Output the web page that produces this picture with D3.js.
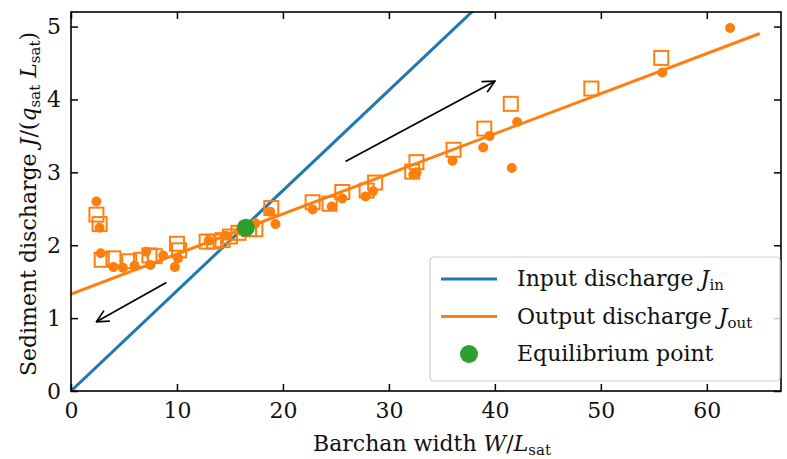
<!DOCTYPE html>
<html>
<head>
<meta charset="utf-8">
<script src="https://cdn.jsdelivr.net/npm/d3@7"></script>
<style>
  body { margin: 0; background: #fff; }
  svg text { font-family: "DejaVu Serif", "Liberation Serif", serif; fill: #111; }
</style>
</head>
<body>
<svg width="787" height="459"></svg>
<script>
// open squares (simulation output discharge)
const squareX = [2.4, 2.7, 2.9, 4.0, 5.5, 6.6, 7.4, 7.9, 10.0, 10.2, 12.8, 13.5, 14.3, 15.0, 15.8, 16.8, 17.4, 18.9, 22.8, 24.4, 25.6, 27.9, 28.7, 32.2, 32.6, 36.1, 39.0, 41.5, 49.1, 55.7];
const squareY = [2.42, 2.29, 1.80, 1.82, 1.78, 1.80, 1.86, 1.85, 2.02, 1.93, 2.05, 2.05, 2.07, 2.12, 2.17, 2.22, 2.22, 2.51, 2.59, 2.57, 2.73, 2.75, 2.86, 3.01, 3.14, 3.31, 3.60, 3.94, 4.15, 4.57];
// filled dots
const dotX = [2.4, 2.7, 2.8, 4.0, 4.9, 6.0, 7.1, 7.5, 8.7, 9.8, 10.1, 13.0, 14.6, 16.0, 17.4, 18.8, 19.3, 22.8, 24.6, 25.6, 27.8, 28.5, 32.3, 32.6, 36.0, 38.9, 39.5, 41.6, 42.1, 55.8, 62.2];
const dotY = [2.60, 2.24, 1.89, 1.70, 1.69, 1.72, 1.91, 1.73, 1.86, 1.70, 1.82, 2.06, 2.13, 2.20, 2.30, 2.46, 2.29, 2.49, 2.53, 2.64, 2.67, 2.74, 2.97, 3.00, 3.16, 3.34, 3.50, 3.06, 3.69, 4.37, 4.98];
// model lines
const inSlope = 0.1375;
const outIntercept = 1.33, outSlope = 0.055;
const lineXMax = 65;
const equilibrium = [16.5, 2.24];
const xTicks = [0, 10, 20, 30, 40, 50, 60];
const yTicks = [0, 1, 2, 3, 4, 5];
const arrows = [[[25.9, 3.15], [40.0, 4.25]], [[9.0, 1.49], [2.4, 0.95]]];

const orange = "#ff7f0e", blue = "#1f77b4", green = "#2ca02c";
const svg = d3.select("svg");
const margin = {left: 71, right: 6, top: 12, bottom: 68};
const W = 787 - margin.left - margin.right, H = 459 - margin.top - margin.bottom;

const x = d3.scaleLinear().domain([0, 67]).range([0, W]);
const y = d3.scaleLinear().domain([0, 5.2]).range([H, 0]);

svg.append("defs").append("clipPath").attr("id", "clip")
  .append("rect").attr("width", W).attr("height", H);
const marker = svg.select("defs").append("marker")
  .attr("id", "head").attr("viewBox", "0 0 14 14").attr("refX", 13).attr("refY", 7)
  .attr("markerWidth", 14).attr("markerHeight", 14).attr("markerUnits", "userSpaceOnUse")
  .attr("orient", "auto");
marker.append("path").attr("d", "M1,1 L13,7 L1,13").attr("fill", "none")
  .attr("stroke", "#000").attr("stroke-width", 1.7);

const g = svg.append("g").attr("transform", `translate(${margin.left},${margin.top})`);
const plot = g.append("g").attr("clip-path", "url(#clip)");

const line = d3.line().x(d => x(d[0])).y(d => y(d[1]));
plot.append("path").datum([[0, 0], [lineXMax, inSlope * lineXMax]])
  .attr("d", line).attr("stroke", blue).attr("stroke-width", 3).attr("fill", "none");

// squares
plot.selectAll(".sq").data(squareX.map((d, i) => [d, squareY[i]])).enter()
  .append("rect").attr("class", "sq")
  .attr("x", d => x(d[0]) - 7).attr("y", d => y(d[1]) - 7)
  .attr("width", 14).attr("height", 14)
  .attr("fill", "none").attr("stroke", orange).attr("stroke-width", 2);

// dots
plot.selectAll(".dot").data(dotX.map((d, i) => [d, dotY[i]])).enter()
  .append("circle").attr("class", "dot")
  .attr("cx", d => x(d[0])).attr("cy", d => y(d[1])).attr("r", 5)
  .attr("fill", orange);

plot.append("path").datum([[0, outIntercept], [lineXMax, outIntercept + outSlope * lineXMax]])
  .attr("d", line).attr("stroke", orange).attr("stroke-width", 3).attr("fill", "none");

plot.append("circle").attr("cx", x(equilibrium[0])).attr("cy", y(equilibrium[1]))
  .attr("r", 9).attr("fill", green);

arrows.forEach(a => {
  g.append("line").attr("x1", x(a[0][0])).attr("y1", y(a[0][1]))
    .attr("x2", x(a[1][0])).attr("y2", y(a[1][1]))
    .attr("stroke", "#000").attr("stroke-width", 1.7).attr("marker-end", "url(#head)");
});

// axes, ticks inward on all four sides
const fmt = d3.format("d");
g.append("g").attr("transform", `translate(0,${H})`)
  .call(d3.axisBottom(x).tickValues(xTicks).tickFormat(fmt).tickSizeInner(-7).tickSizeOuter(0).tickPadding(11));
g.append("g").call(d3.axisTop(x).tickValues(xTicks).tickFormat("").tickSizeInner(-7).tickSizeOuter(0));
g.append("g")
  .call(d3.axisLeft(y).tickValues(yTicks).tickFormat(fmt).tickSizeInner(-7).tickSizeOuter(0).tickPadding(10));
g.append("g").attr("transform", `translate(${W},0)`)
  .call(d3.axisRight(y).tickValues(yTicks).tickFormat("").tickSizeInner(-7).tickSizeOuter(0));
g.selectAll(".domain").remove();
g.selectAll(".tick line").attr("stroke", "#000").attr("stroke-width", 1.5);
g.selectAll(".tick text").attr("font-size", 22).attr("font-family", "Liberation Serif").attr("fill", "#111");
g.append("rect").attr("width", W).attr("height", H).attr("fill", "none")
  .attr("stroke", "#000").attr("stroke-width", 1.6);

// axis labels
const xl = svg.append("text").attr("x", 432).attr("y", 451)
  .attr("text-anchor", "middle").attr("font-size", 22);
xl.append("tspan").text("Barchan width ");
xl.append("tspan").attr("font-style", "italic").text("W");
xl.append("tspan").text("/");
xl.append("tspan").attr("font-style", "italic").text("L");
xl.append("tspan").attr("font-size", 15).attr("dy", 4).text("sat");

const yl = svg.append("text").attr("transform", "translate(36,204) rotate(-90)")
  .attr("text-anchor", "middle").attr("font-size", 22);
yl.append("tspan").text("Sediment discharge ");
yl.append("tspan").attr("font-style", "italic").text("J");
yl.append("tspan").text("/(");
yl.append("tspan").attr("font-style", "italic").text("q");
yl.append("tspan").attr("font-size", 15).attr("dy", 4).text("sat");
yl.append("tspan").attr("dy", -4).text(" ");
yl.append("tspan").attr("font-style", "italic").text("L");
yl.append("tspan").attr("font-size", 15).attr("dy", 4).text("sat");
yl.append("tspan").attr("dy", -4).text(")");

// legend
const lg = svg.append("g").attr("transform", "translate(430,257)");
lg.append("rect").attr("width", 350).attr("height", 124).attr("rx", 4)
  .attr("fill", "#fff").attr("fill-opacity", 0.8).attr("stroke", "#ccc").attr("stroke-width", 1.2);
const items = [
  {type: "line", color: blue, main: "Input discharge ", sub: "in"},
  {type: "line", color: orange, main: "Output discharge ", sub: "out"},
  {type: "dot", color: green, main: "Equilibrium point", sub: null}
];
items.forEach((it, i) => {
  const cy = 22 + i * 37.5;
  if (it.type === "line") {
    lg.append("line").attr("x1", 11).attr("x2", 67).attr("y1", cy).attr("y2", cy)
      .attr("stroke", it.color).attr("stroke-width", 3);
  } else {
    lg.append("circle").attr("cx", 39).attr("cy", cy).attr("r", 9).attr("fill", it.color);
  }
  const t = lg.append("text").attr("x", 87).attr("y", cy + 7).attr("font-size", 22);
  t.append("tspan").text(it.main);
  if (it.sub) {
    t.append("tspan").attr("font-style", "italic").text("J");
    t.append("tspan").attr("font-size", 15).attr("dy", 4).text(it.sub);
  }
});
</script>
</body>
</html>
